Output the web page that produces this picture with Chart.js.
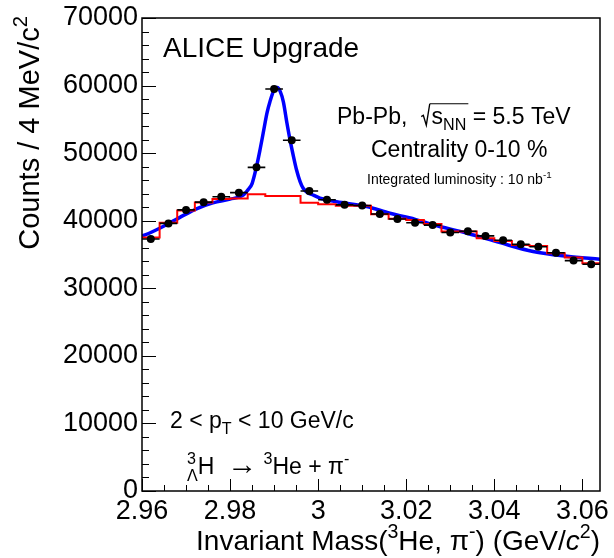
<!DOCTYPE html>
<html>
<head>
<meta charset="utf-8">
<script src="https://cdn.jsdelivr.net/npm/chart.js@4/dist/chart.umd.min.js"></script>
<style>
html,body{margin:0;padding:0;background:#fff;}
#wrap{width:614px;height:558px;}
</style>
</head>
<body>
<div id="wrap"><canvas id="c" width="614" height="558"></canvas></div>
<script>
// ---- data ----
const binCenters = [2.962, 2.966, 2.970, 2.974, 2.978, 2.982, 2.986, 2.990, 2.994, 2.998, 3.002, 3.006, 3.010,
                    3.014, 3.018, 3.022, 3.026, 3.030, 3.034, 3.038, 3.042, 3.046, 3.050, 3.054, 3.058, 3.062];
const counts = [37300, 39600, 41600, 42750, 43550, 44150, 47900, 59500, 51900, 44400, 43100, 42350, 42250,
                41000, 40250, 39700, 39350, 38250, 38450, 37750, 37100, 36500, 36150, 35250, 34100, 33550];
const binWidth = 0.004;
const histEdges = [2.960, 2.964, 2.968, 2.972, 2.976, 2.980, 2.984, 2.988, 2.992, 2.996, 3.000, 3.004, 3.008,
                   3.012, 3.016, 3.020, 3.024, 3.028, 3.032, 3.036, 3.040, 3.044, 3.048, 3.052, 3.056, 3.060, 3.064];
const bkgCounts = [37500, 39700, 41500, 42700, 43200, 43300, 43900, 43650, 43650, 42650, 42450, 42200, 42200,
                   40950, 40300, 40100, 39500, 38400, 38400, 37400, 37000, 36400, 36250, 35200, 34550, 33700];
const fitX = [2.9600, 2.9607, 2.9648, 2.9686, 2.9725, 2.9761, 2.9800, 2.9829, 2.9841, 2.9850, 2.9860, 2.9868,
              2.9875, 2.9884, 2.9891, 2.9898, 2.9907, 2.9914, 2.9921, 2.9929, 2.9936, 2.9944, 2.9951, 2.9959,
              2.9966, 2.9977, 2.9989, 3.0004, 3.0019, 3.0042, 3.0110, 3.0163, 3.0209, 3.0261, 3.0338, 3.0413,
              3.0488, 3.0565, 3.0640];
const fitY = [37750, 37900, 39150, 40500, 41800, 42650, 43200, 43750, 44600, 45500, 48000, 50500,
              52900, 56000, 57700, 59100, 59700, 59100, 57600, 54500, 52000, 49500, 47500, 45800,
              44800, 44100, 43800, 43350, 43100, 42800, 42100, 41100, 40400, 39400, 38150, 36750,
              35450, 34750, 34300];
const xTickValues = [2.96, 2.98, 3.00, 3.02, 3.04, 3.06];
const xTickLabels = ['2.96', '2.98', '3', '3.02', '3.04', '3.06'];
const yTickValues = [0, 10000, 20000, 30000, 40000, 50000, 60000, 70000];
const yTickLabels = ['0', '10000', '20000', '30000', '40000', '50000', '60000', '70000'];
const xMin = 2.96, xMax = 3.064, yMin = 0, yMax = 70000;
const xMinorStep = 0.005, yMinorStep = 2000;

const FONT = '"Liberation Sans", Arial, Helvetica, sans-serif';

// ---- build datasets ----
const pointData = binCenters.map((c, i) => ({x: c, y: counts[i]}));
const errData = [];
binCenters.forEach((c, i) => {
  errData.push({x: c - binWidth / 2, y: counts[i]});
  errData.push({x: c + binWidth / 2, y: counts[i]});
  errData.push({x: c + binWidth / 2 + 1e-6, y: null});
});
const histData = histEdges.map((e, i) => ({x: e, y: bkgCounts[Math.min(i, bkgCounts.length - 1)]}));
const fitData = fitX.map((x, i) => ({x, y: fitY[i]}));

// ---- rich text helper ----
function rich(ctx, x, y, parts, size, align) {
  const items = [];
  let w = 0;
  parts.forEach(p => {
    const small = p.sup || p.sub || p.stack;
    const s = p.size ? p.size : (small ? size * 0.7 : size);
    const font = (p.italic ? 'italic ' : '') + s + 'px ' + FONT;
    ctx.font = font;
    let pw = ctx.measureText(p.t).width;
    let pw2 = 0;
    if (p.stack) { pw2 = ctx.measureText(p.stack).width; pw = Math.max(pw, pw2); }
    if (p.radical) pw = size * 0.5;
    items.push({p, font, w: pw, s});
    w += pw + (p.dx || 0);
  });
  let cx = align === 'right' ? x - w : align === 'center' ? x - w / 2 : x;
  let olStart = null, olEnd = null;
  items.forEach(it => {
    const p = it.p;
    cx += (p.dx || 0);
    ctx.font = it.font;
    if (p.radical) {
      ctx.save();
      ctx.lineWidth = size * 0.06;
      ctx.beginPath();
      ctx.moveTo(cx + size * 0.05, y - size * 0.32);
      ctx.lineTo(cx + size * 0.14, y - size * 0.38);
      ctx.lineTo(cx + size * 0.27, y + size * 0.05);
      ctx.lineTo(cx + size * 0.42, y - size * 0.88);
      ctx.stroke();
      ctx.restore();
      olStart = cx + size * 0.42;
    } else if (p.stack) {
      ctx.fillText(p.t, cx, y - size * 0.42);
      ctx.fillText(p.stack, cx, y + size * 0.32);
    } else {
      const dy = p.sup ? -size * 0.42 : p.sub ? size * 0.25 : (p.dy || 0);
      ctx.fillText(p.t, cx, y + dy);
    }
    cx += it.w;
    if (p.over) olEnd = cx;
  });
  if (olStart !== null && olEnd !== null) {
    ctx.save();
    ctx.lineWidth = size * 0.05;
    ctx.beginPath();
    ctx.moveTo(olStart, y - size * 0.88);
    ctx.lineTo(olEnd + 2, y - size * 0.88);
    ctx.stroke();
    ctx.restore();
  }
}

const decor = {
  id: 'decor',
  beforeDatasetsDraw(chart) {
    const {ctx, chartArea: a, scales: {x, y}} = chart;
    ctx.save();
    ctx.strokeStyle = '#000';
    ctx.lineWidth = 1;
    const nY = Math.round((yMax - yMin) / yMinorStep);
    for (let k = 0; k <= nY; k++) {
      const v = yMin + k * yMinorStep;
      const py = Math.round(y.getPixelForValue(v)) + 0.5;
      const major = yTickValues.some(t => Math.abs(t - v) < 1e-6);
      ctx.beginPath(); ctx.moveTo(a.left, py); ctx.lineTo(a.left + (major ? 14 : 7), py); ctx.stroke();
    }
    const nX = Math.floor((xMax - xMin) / xMinorStep + 1e-6);
    for (let k = 0; k <= nX; k++) {
      const v = xMin + k * xMinorStep;
      const px = Math.round(x.getPixelForValue(v)) + 0.5;
      const major = xTickValues.some(t => Math.abs(t - v) < 1e-6);
      ctx.beginPath(); ctx.moveTo(px, a.bottom); ctx.lineTo(px, a.bottom - (major ? 12 : 6)); ctx.stroke();
    }
    ctx.restore();
  },
  afterDatasetsDraw(chart) {
    const {ctx, chartArea: a} = chart;
    ctx.save();
    ctx.strokeStyle = '#000';
    ctx.lineWidth = 1.5;
    ctx.strokeRect(a.left, a.top, a.right - a.left, a.bottom - a.top);
    ctx.fillStyle = '#000';
    ctx.strokeStyle = '#000';
    ctx.textBaseline = 'alphabetic';
    ctx.textAlign = 'left';
    rich(ctx, 163, 57, [{t: 'ALICE Upgrade'}], 28, 'left');
    rich(ctx, 337, 124, [{t: 'Pb-Pb,  '}, {radical: true, t: ''}, {t: 's', over: true}, {t: 'NN', sub: true, over: true},
                         {t: ' = 5.5 TeV'}], 23, 'left');
    rich(ctx, 371, 157, [{t: 'Centrality 0-10 %'}], 23, 'left');
    rich(ctx, 367, 184, [{t: 'Integrated luminosity : 10 nb'}, {t: '-1', sup: true}], 14, 'left');
    rich(ctx, 170, 428, [{t: '2 < p'}, {t: 'T', sub: true}, {t: ' < 10 GeV/c'}], 23, 'left');
    rich(ctx, 187, 474, [{t: '3', stack: '\u039B'}, {t: 'H  '}, {t: '\u2192', size: 30, dy: 0}, {t: ' '},
                         {t: '3', sup: true}, {t: 'He + \u03C0'}, {t: '-', sup: true}], 23, 'left');
    // x axis title
    rich(ctx, 600, 550, [{t: 'Invariant Mass('}, {t: '3', sup: true}, {t: 'He, \u03C0'}, {t: '-', sup: true},
                         {t: ') (GeV/'}, {t: 'c', italic: true}, {t: '2', sup: true}, {t: ')'}], 28, 'right');
    // y axis title
    ctx.save();
    ctx.translate(39, 16);
    ctx.rotate(-Math.PI / 2);
    rich(ctx, 0, 0, [{t: 'Counts / 4 MeV/c'}, {t: '2', sup: true}], 29, 'right');
    ctx.restore();
    ctx.restore();
  }
};

new Chart(document.getElementById('c'), {
  type: 'scatter',
  data: {
    datasets: [
      {type: 'scatter', data: pointData, order: 0, pointRadius: 4, pointBackgroundColor: '#000',
       pointBorderWidth: 0, pointBorderColor: '#000', pointHoverRadius: 4},
      {type: 'line', data: errData, order: 1, borderColor: '#000', borderWidth: 1.6, pointRadius: 0,
       spanGaps: false, fill: false, tension: 0},
      {type: 'line', data: histData, order: 2, borderColor: '#ff0000', borderWidth: 2, pointRadius: 0,
       stepped: 'before', fill: false},
      {type: 'line', data: fitData, order: 3, borderColor: '#0000ff', borderWidth: 3.5, pointRadius: 0,
       cubicInterpolationMode: 'monotone', fill: false}
    ]
  },
  options: {
    responsive: false,
    animation: false,
    events: [],
    layout: {padding: {top: 18, right: 14, left: 0, bottom: 0}},
    plugins: {legend: {display: false}, tooltip: {enabled: false}, title: {display: false}},
    scales: {
      x: {
        type: 'linear', min: xMin, max: xMax,
        grid: {display: false, drawTicks: false}, border: {display: false},
        afterBuildTicks(s) { s.ticks = xTickValues.map(v => ({value: v})); },
        afterFit(s) { s.height = 67; s.paddingLeft = 0; s.paddingRight = 0; },
        ticks: {
          color: '#000', font: {family: FONT, size: 27}, padding: 4, maxRotation: 0, autoSkip: false,
          callback: (v, i) => xTickLabels[i]
        }
      },
      y: {
        type: 'linear', min: yMin, max: yMax,
        grid: {display: false, drawTicks: false}, border: {display: false},
        afterBuildTicks(s) { s.ticks = yTickValues.map(v => ({value: v})); },
        afterFit(s) { s.width = 142; s.paddingTop = 0; s.paddingBottom = 0; },
        ticks: {
          color: '#000', font: {family: FONT, size: 27}, padding: 4, autoSkip: false,
          callback: (v, i) => yTickLabels[i]
        }
      }
    }
  },
  plugins: [decor]
});
</script>
</body>
</html>
